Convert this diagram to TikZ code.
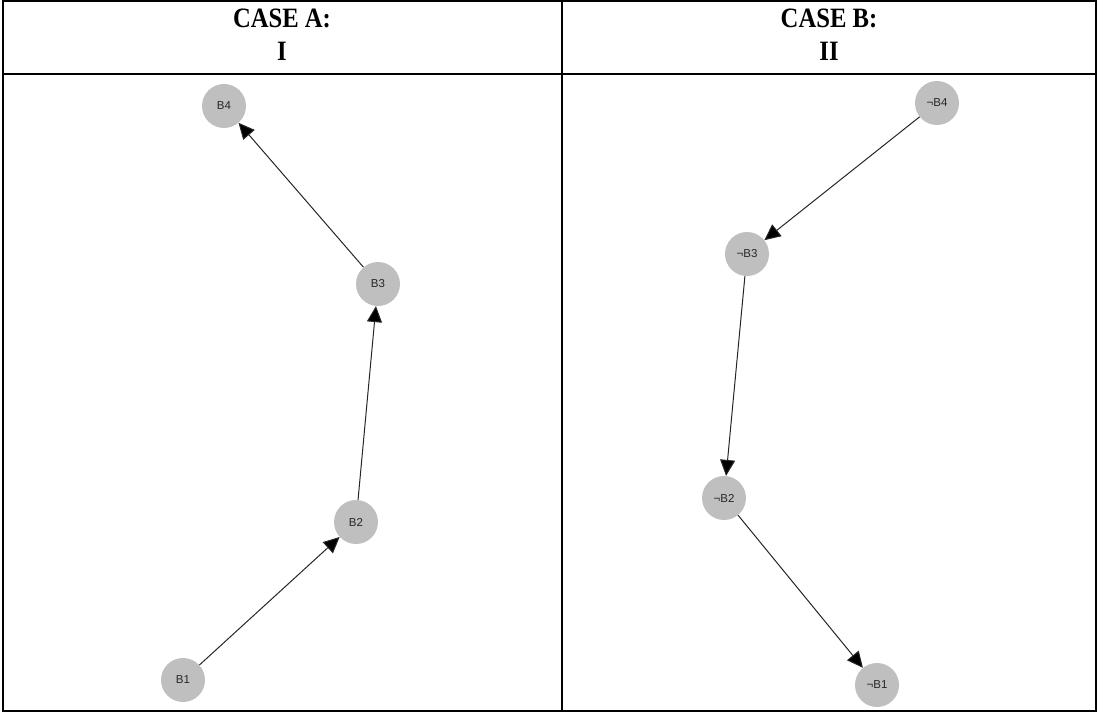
\documentclass[tikz,border=0pt]{standalone}
\usepackage{fontspec}
\setmainfont{Liberation Serif}
\newfontfamily\nodefont{Liberation Sans}
\usetikzlibrary{arrows.meta}
\begin{document}
\begin{tikzpicture}[x=1pt,y=-1pt,
  bn/.style={circle,fill=black!25,minimum size=44pt,inner sep=0pt,font=\nodefont\fontsize{11.5}{13}\selectfont,text=black!85},
  edge/.style={draw=black!85,line width=1pt,-{Triangle[length=16pt,width=15pt,fill=black]}},
  hdr/.style={font=\bfseries\fontsize{28}{32}\selectfont,align=center,inner sep=0pt,xscale=0.88},
  tab/.style={line width=2.2pt}]
\useasboundingbox (0,0) rectangle (1098,713);
\draw[tab] (3,1) rectangle (1096,711);
\draw[tab] (562,1) -- (562,711);
\draw[tab] (3,74) -- (1096,74);
\node[hdr] (ha) at (282,18) {CASE A:};
\node[hdr] (ha2) at (282,51) {I};
\node[hdr] (hb) at (829,18) {CASE B:};
\node[hdr] (hb2) at (829,51) {II};
% Case A
\node[bn] (b4) at (224,106) {B4};
\node[bn] (b3) at (378,284) {B3};
\node[bn] (b2) at (356,522) {B2};
\node[bn] (b1) at (183,680) {B1};
\draw[edge] (b1) -- (b2);
\draw[edge] (b2) -- (b3);
\draw[edge] (b3) -- (b4);
% Case B
\node[bn] (n4) at (937,103) {¬B4};
\node[bn] (n3) at (747,254) {¬B3};
\node[bn] (n2) at (724,498) {¬B2};
\node[bn] (n1) at (877,685) {¬B1};
\draw[edge] (n4) -- (n3);
\draw[edge] (n3) -- (n2);
\draw[edge] (n2) -- (n1);
\end{tikzpicture}
\end{document}
